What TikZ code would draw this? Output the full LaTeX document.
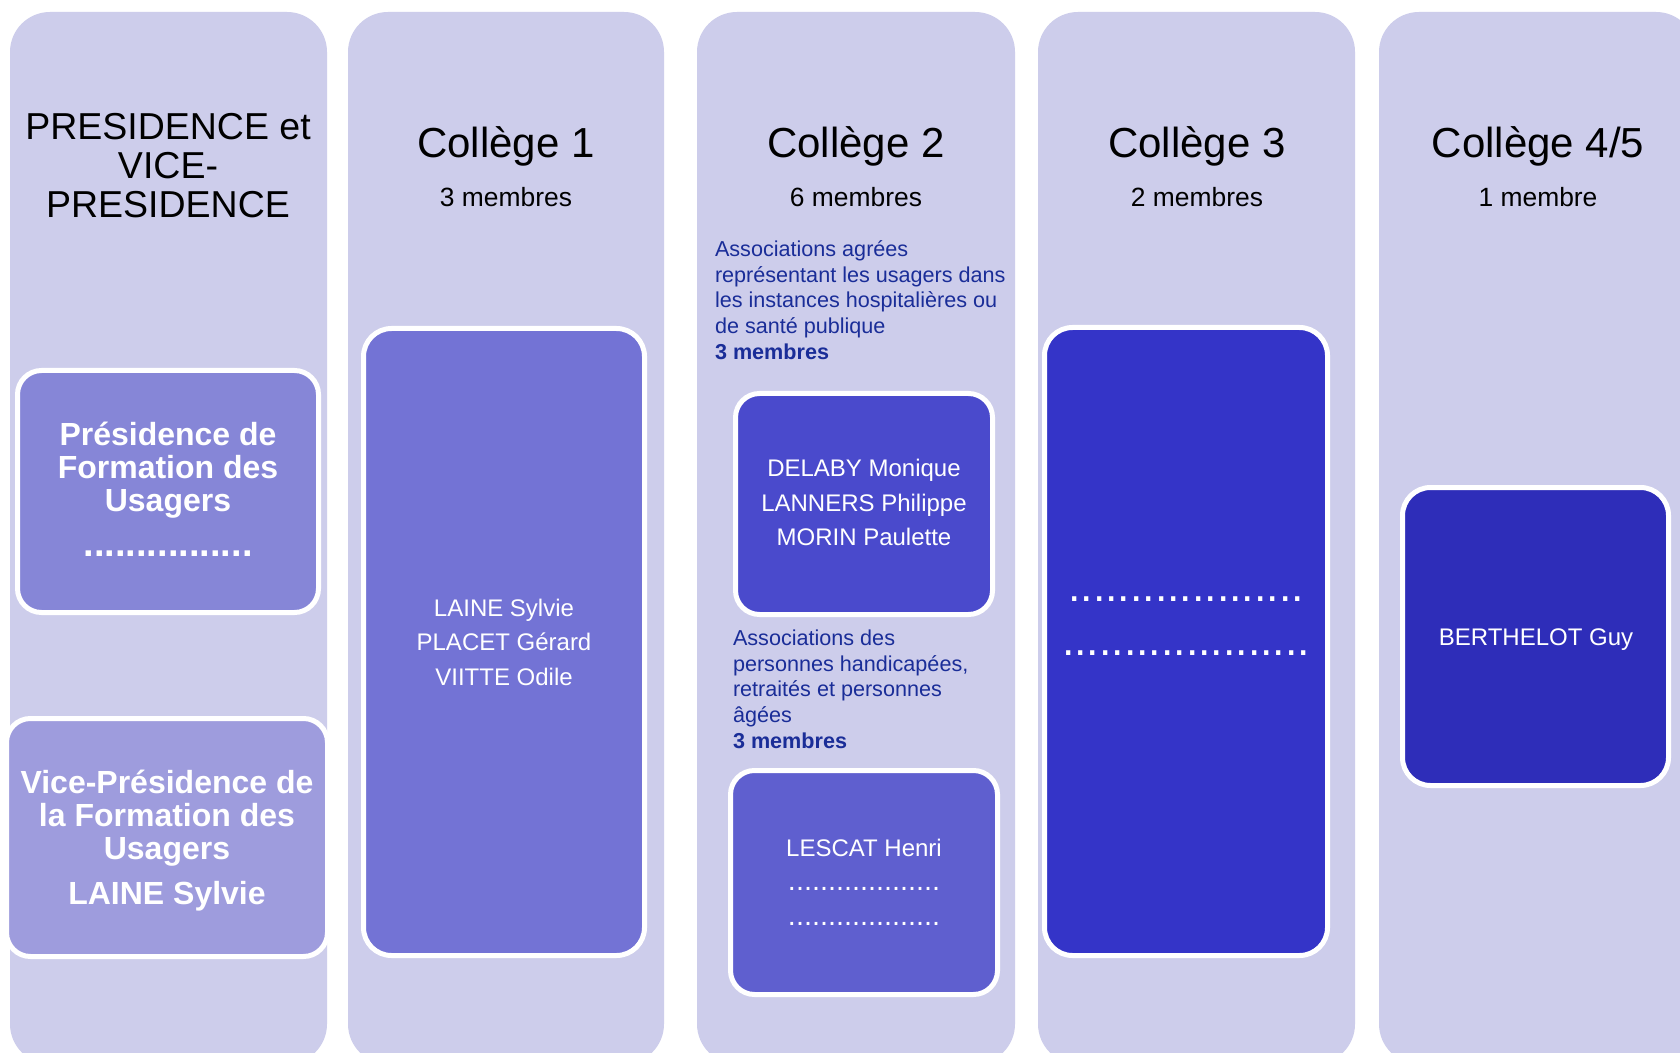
\documentclass[tikz,border=0pt]{standalone}
\usepackage{fontspec}
\setmainfont{Liberation Sans}
\definecolor{colfill}{HTML}{CDCDEB}
\definecolor{presfill}{HTML}{8686D7}
\definecolor{vicefill}{HTML}{9E9CDD}
\definecolor{ctwofill}{HTML}{7373D5}
\definecolor{cthreea}{HTML}{4A4ACC}
\definecolor{cthreeb}{HTML}{5F5FCF}
\definecolor{cfourfill}{HTML}{3434C8}
\definecolor{cfivefill}{HTML}{2E2DB9}
\definecolor{txtblue}{HTML}{1A2D98}
\begin{document}
\begin{tikzpicture}[x=0.5pt,y=-0.5pt,
  every node/.style={inner sep=0pt,outer sep=0pt},
  column/.style={fill=colfill,rounded corners=20pt},
  boxbig/.style={draw=white,line width=2.5pt,rounded corners=14pt},
  boxsmall/.style={draw=white,line width=2.5pt,rounded corners=12pt},
  bigtitle/.style={anchor=base,font=\fontsize{21}{24}\selectfont,text=black},
  membres/.style={anchor=base,font=\fontsize{13.2}{15}\selectfont,text=black},
  boldwhite/.style={align=center,text=white,font=\bfseries\fontsize{16}{16.5}\selectfont},
  names/.style={align=center,text=white,font=\fontsize{12}{17.25}\selectfont},
  assoc/.style={align=left,anchor=west,text=txtblue,font=\fontsize{10.8}{12.85}\selectfont},
  dotrow/.style={anchor=base,text=white}
]
\useasboundingbox (0,0) rectangle (1680,1053);
\clip (0,0) rectangle (1680,1053);
\fill[white] (0,0) rectangle (1680,1053);

% columns
\fill[column] (10,12) rectangle (327,1064);
\fill[column] (348,12) rectangle (664,1064);
\fill[column] (697,12) rectangle (1015,1064);
\fill[column] (1038,12) rectangle (1355,1064);
\fill[column] (1379,12) rectangle (1696,1064);

% column 1
\node[align=center,text=black,font=\fontsize{18.75}{19.5}\selectfont] (t0) at (168,166) {PRESIDENCE et\\VICE-\\PRESIDENCE};
\node[boxsmall,fill=presfill,minimum width=150.5pt,minimum height=121pt] (pres) at (168,491.5) {};
\node[boldwhite] (prestxt) at (168,470) {Présidence de\\Formation des\\Usagers};
\node[dotrow,font=\bfseries\fontsize{19}{19}\selectfont] (presdots) at (168,556) {................};
\node[boxsmall,fill=vicefill,minimum width=160.5pt,minimum height=119pt] (vice) at (167,837.5) {};
\node[boldwhite] (vicetxt) at (167,818) {Vice-Présidence de\\la Formation des\\Usagers};
\node[anchor=base,text=white,font=\bfseries\fontsize{16}{16.5}\selectfont] (vicename) at (167,904) {LAINE Sylvie};

% column 2
\node[bigtitle] (t1) at (506,158) {Collège 1};
\node[membres] (m1) at (506,207) {3 membres};
\node[boxbig,fill=ctwofill,minimum width=140.5pt,minimum height=313.5pt] (c2box) at (504,642) {};
\node[names] (c2names) at (504,642) {LAINE Sylvie\\PLACET Gérard\\VIITTE Odile};

% column 3
\node[bigtitle] (t2) at (856,158) {Collège 2};
\node[membres] (m2) at (856,207) {6 membres};
\node[assoc] (a1) at (715,300) {Associations agrées\\représentant les usagers dans\\les instances hospitalières ou\\de santé publique\\\textbf{3 membres}};
\node[boxsmall,fill=cthreea,minimum width=128.5pt,minimum height=110.5pt] (c3a) at (864,504) {};
\node[names] (c3anames) at (864,502.5) {DELABY Monique\\LANNERS Philippe\\MORIN Paulette};
\node[assoc] (a2) at (733,689) {Associations des\\personnes handicapées,\\retraités et personnes\\âgées\\\textbf{3 membres}};
\node[boxsmall,fill=cthreeb,minimum width=133.5pt,minimum height=112pt] (c3b) at (864,882.5) {};
\node[anchor=base,text=white,font=\fontsize{12}{14}\selectfont] (c3bname) at (864,856) {LESCAT Henri};
\node[dotrow,font=\fontsize{14.4}{14.4}\selectfont] (c3bd1) at (864,890) {...................};
\node[dotrow,font=\fontsize{14.4}{14.4}\selectfont] (c3bd2) at (864,925) {...................};

% column 4
\node[bigtitle] (t3) at (1197,158) {Collège 3};
\node[membres] (m3) at (1197,207) {2 membres};
\node[boxbig,fill=cfourfill,minimum width=141.5pt,minimum height=314pt] (c4box) at (1186,641.5) {};
\node[dotrow,font=\fontsize{22.3}{22.3}\selectfont] (c4d1) at (1186,601) {...................};
\node[dotrow,font=\fontsize{22.3}{22.3}\selectfont] (c4d2) at (1186,655) {....................};

% column 5
\node[bigtitle] (t4) at (1538,158) {Collège 4/5};
\node[membres] (m4) at (1538,207) {1 membre};
\node[boxbig,fill=cfivefill,minimum width=133pt,minimum height=149pt] (c5box) at (1535.5,636.5) {};
\node[anchor=base,text=white,font=\fontsize{12}{14}\selectfont] (c5name) at (1536,645) {BERTHELOT Guy};
\end{tikzpicture}
\end{document}
